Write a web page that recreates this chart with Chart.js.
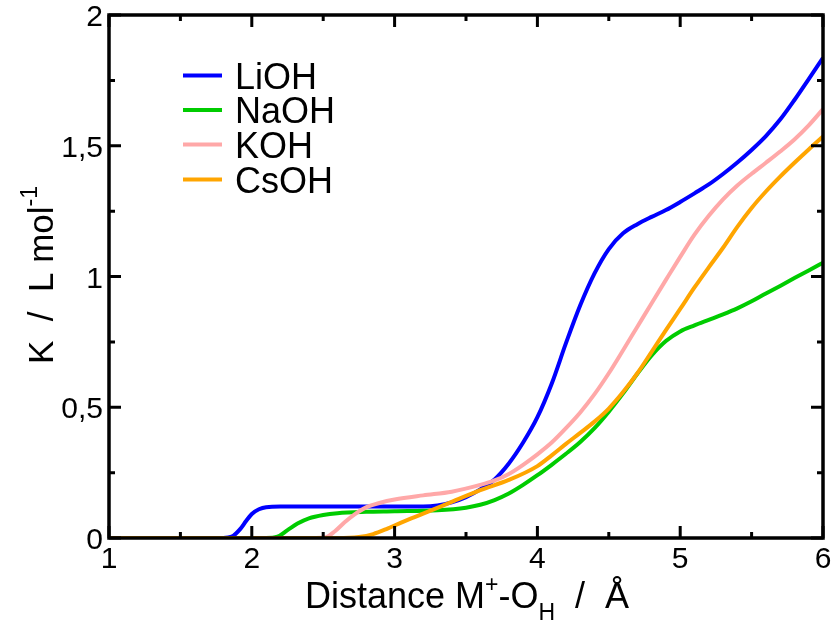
<!DOCTYPE html>
<html>
<head>
<meta charset="utf-8">
<script src="https://cdn.jsdelivr.net/npm/chart.js@4/dist/chart.umd.min.js"></script>
<style>
  html, body { margin: 0; padding: 0; background: #fff; }
  #wrap { width: 831px; height: 625px; }
</style>
</head>
<body>
<div id="wrap"><canvas id="c" width="831" height="625"></canvas></div>
<script>
// ---- data ----
const seriesNames = ['LiOH', 'NaOH', 'KOH', 'CsOH'];
const seriesColors = ['#0000ff', '#00cc00', '#ffa8a8', '#ffa500'];

const liohX = [1.0, 1.8, 1.86, 1.92, 1.96, 2.0, 2.05, 2.1, 2.2, 2.5, 3.0, 3.2, 3.3, 3.4, 3.5, 3.6, 3.7, 3.8, 3.9, 4.0, 4.1, 4.2, 4.3, 4.4, 4.5, 4.6, 4.7, 4.8, 4.9, 5.0, 5.1, 5.2, 5.3, 5.4, 5.5, 5.6, 5.7, 5.8, 5.9, 6.0];
const liohY = [0, 0, 0.005, 0.035, 0.065, 0.092, 0.11, 0.118, 0.12, 0.12, 0.12, 0.12, 0.124, 0.136, 0.156, 0.186, 0.224, 0.285, 0.365, 0.462, 0.59, 0.745, 0.89, 1.012, 1.105, 1.165, 1.2, 1.228, 1.254, 1.285, 1.318, 1.352, 1.392, 1.436, 1.484, 1.537, 1.6, 1.675, 1.755, 1.836];

const naohX = [1.0, 2.1, 2.18, 2.25, 2.32, 2.4, 2.5, 2.6, 2.8, 3.0, 3.3, 3.5, 3.6, 3.7, 3.8, 3.9, 4.0, 4.1, 4.2, 4.3, 4.4, 4.5, 4.6, 4.7, 4.8, 4.9, 5.0, 5.1, 5.2, 5.3, 5.4, 5.5, 5.6, 5.7, 5.8, 5.9, 6.0];
const naohY = [0, 0, 0.005, 0.03, 0.055, 0.075, 0.088, 0.095, 0.1, 0.102, 0.106, 0.116, 0.127, 0.145, 0.17, 0.203, 0.24, 0.28, 0.322, 0.367, 0.42, 0.483, 0.553, 0.628, 0.698, 0.753, 0.79, 0.813, 0.834, 0.855, 0.878, 0.905, 0.935, 0.964, 0.994, 1.023, 1.053];

const kohX = [1.0, 2.45, 2.52, 2.58, 2.65, 2.72, 2.8, 2.9, 3.0, 3.2, 3.4, 3.6, 3.7, 3.8, 3.9, 4.0, 4.1, 4.2, 4.3, 4.4, 4.5, 4.6, 4.7, 4.8, 4.9, 5.0, 5.1, 5.2, 5.3, 5.4, 5.5, 5.6, 5.7, 5.8, 5.9, 6.0];
const kohY = [0, 0, 0.003, 0.025, 0.06, 0.09, 0.117, 0.135, 0.147, 0.163, 0.177, 0.203, 0.22, 0.245, 0.28, 0.32, 0.365, 0.42, 0.48, 0.55, 0.63, 0.718, 0.808, 0.898, 0.987, 1.075, 1.16, 1.232, 1.295, 1.348, 1.393, 1.435, 1.478, 1.524, 1.578, 1.64];

const csohX = [1.0, 2.6, 2.75, 2.85, 2.95, 3.05, 3.2, 3.4, 3.6, 3.8, 4.0, 4.1, 4.2, 4.3, 4.4, 4.5, 4.6, 4.7, 4.8, 4.9, 5.0, 5.1, 5.2, 5.3, 5.4, 5.5, 5.6, 5.7, 5.8, 5.9, 6.0];
const csohY = [0, 0, 0.004, 0.015, 0.036, 0.06, 0.093, 0.138, 0.183, 0.222, 0.275, 0.316, 0.36, 0.402, 0.445, 0.495, 0.558, 0.63, 0.712, 0.795, 0.876, 0.958, 1.035, 1.11, 1.19, 1.262, 1.325, 1.382, 1.435, 1.486, 1.535];

const xTickValues = [1, 2, 3, 4, 5, 6];
const xTickLabels = ['1', '2', '3', '4', '5', '6'];
const xMinorValues = [1.5, 2.5, 3.5, 4.5, 5.5];
const yTickValues = [0, 0.5, 1, 1.5, 2];
const yTickLabels = ['0', '0,5', '1', '1,5', '2'];
const yMinorValues = [0.25, 0.75, 1.25, 1.75];

const xs = [liohX, naohX, kohX, csohX];
const ys = [liohY, naohY, kohY, csohY];
const drawOrder = [3, 2, 1, 0]; // lower = drawn on top

const FONT = '"Liberation Sans", Arial, sans-serif';

const datasets = seriesNames.map((name, i) => ({
  label: name,
  data: xs[i].map((x, j) => ({ x: x, y: ys[i][j] })),
  borderColor: seriesColors[i],
  backgroundColor: seriesColors[i],
  borderWidth: 4,
  pointRadius: 0,
  showLine: true,
  fill: false,
  cubicInterpolationMode: 'monotone',
  order: drawOrder[i]
}));

const framePlugin = {
  id: 'frame',
  afterDatasetsDraw(chart) {
    const ctx = chart.ctx;
    const xs_ = chart.scales.x, ys_ = chart.scales.y;
    const a = chart.chartArea;
    ctx.save();
    ctx.strokeStyle = '#000';
    ctx.lineWidth = 3;
    const major = 12, minor = 6;
    function vtick(v, len) {
      const px = xs_.getPixelForValue(v);
      ctx.beginPath();
      ctx.moveTo(px, a.bottom); ctx.lineTo(px, a.bottom - len);
      ctx.moveTo(px, a.top); ctx.lineTo(px, a.top + len);
      ctx.stroke();
    }
    function htick(v, len) {
      const py = ys_.getPixelForValue(v);
      ctx.beginPath();
      ctx.moveTo(a.left, py); ctx.lineTo(a.left + len, py);
      ctx.moveTo(a.right, py); ctx.lineTo(a.right - len, py);
      ctx.stroke();
    }
    ctx.lineCap = 'butt';
    xTickValues.forEach(v => vtick(v, major));
    xMinorValues.forEach(v => vtick(v, minor));
    yTickValues.forEach(v => htick(v, major));
    yMinorValues.forEach(v => htick(v, minor));
    // frame
    ctx.lineWidth = 3.5;
    ctx.lineJoin = 'miter';
    ctx.strokeRect(a.left, a.top, a.right - a.left, a.bottom - a.top);

    // tick labels
    ctx.fillStyle = '#000';
    ctx.font = '30px ' + FONT;
    ctx.textAlign = 'center';
    ctx.textBaseline = 'alphabetic';
    xTickValues.forEach((v, i) => {
      ctx.fillText(xTickLabels[i], xs_.getPixelForValue(v), 568);
    });
    ctx.textAlign = 'right';
    yTickValues.forEach((v, i) => {
      ctx.fillText(yTickLabels[i], 103, ys_.getPixelForValue(v) + 11);
    });

    // x title with superscript / subscript
    const big = '36px ' + FONT, small = '23px ' + FONT;
    const parts = [
      { t: 'Distance M', f: big, dy: 0 },
      { t: '+', f: small, dy: -16 },
      { t: '-O', f: big, dy: 0 },
      { t: 'H', f: small, dy: 12 },
      { t: '  /  Å', f: big, dy: 0 }
    ];
    let total = 0;
    parts.forEach(p => { ctx.font = p.f; total += ctx.measureText(p.t).width; });
    let x0 = 467 - total / 2;
    ctx.textAlign = 'left';
    parts.forEach(p => {
      ctx.font = p.f;
      ctx.fillText(p.t, x0, 608 + p.dy);
      x0 += ctx.measureText(p.t).width;
    });

    // y title (rotated)
    const ybig = '35px ' + FONT;
    ctx.save();
    ctx.translate(53, 275);
    ctx.rotate(-Math.PI / 2);
    const yparts = [
      { t: 'K  /  L mol', f: ybig, dy: 0 },
      { t: '-1', f: small, dy: -16 }
    ];
    let ytotal = 0;
    yparts.forEach(p => { ctx.font = p.f; ytotal += ctx.measureText(p.t).width; });
    let y0 = -ytotal / 2;
    yparts.forEach(p => {
      ctx.font = p.f;
      ctx.fillText(p.t, y0, p.dy);
      y0 += ctx.measureText(p.t).width;
    });
    ctx.restore();

    // legend
    const legY = [75.5, 110, 144.5, 179.5];
    ctx.font = '36px ' + FONT;
    ctx.textAlign = 'left';
    seriesNames.forEach((name, i) => {
      ctx.strokeStyle = seriesColors[i];
      ctx.lineWidth = 4;
      ctx.beginPath();
      ctx.moveTo(183, legY[i]); ctx.lineTo(222, legY[i]);
      ctx.stroke();
      ctx.fillStyle = '#000';
      ctx.fillText(name, 235, legY[i] + 13);
    });
    ctx.restore();
  }
};

new Chart(document.getElementById('c'), {
  type: 'scatter',
  data: { datasets: datasets },
  options: {
    responsive: false,
    animation: false,
    devicePixelRatio: 1,
    layout: { padding: { left: 109, right: 8, top: 15, bottom: 87 } },
    plugins: { legend: { display: false }, tooltip: { enabled: false } },
    scales: {
      x: { type: 'linear', min: 1, max: 6, display: false },
      y: { type: 'linear', min: 0, max: 2, display: false }
    }
  },
  plugins: [framePlugin]
});
</script>
</body>
</html>
